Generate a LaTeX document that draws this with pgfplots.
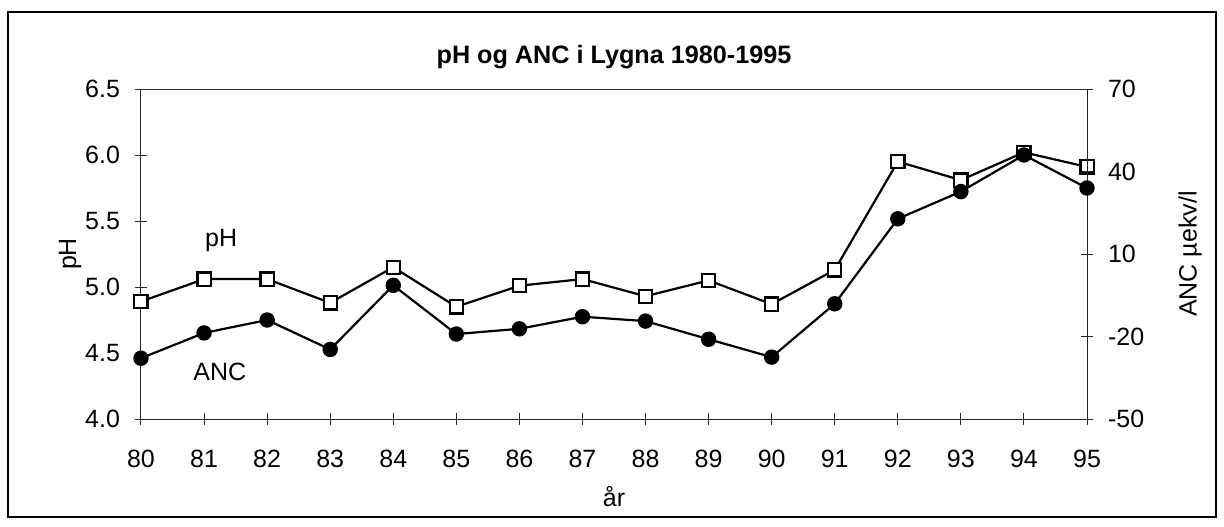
\documentclass[border=0pt]{standalone}
\usepackage{fontspec}
\setmainfont{Liberation Sans}
\usepackage{pgfplots}
\usepackage{pgfplotstable}
\pgfplotsset{compat=1.18}

% year, pH (left axis), ANC in uekv/l (right axis)
\pgfplotstableread{
year pH   ANC
80   4.89 -27.9
81   5.06 -18.7
82   5.06 -14.0
83   4.88 -24.7
84   5.15 -1.4
85   4.85 -19.1
86   5.01 -17.2
87   5.06 -12.8
88   4.93 -14.4
89   5.05 -21.0
90   4.87 -27.5
91   5.13 -8.1
92   5.95 22.8
93   5.81 32.7
94   6.02 46.0
95   5.91 34.0
}\lygna

\newcommand\lbl{\fontsize{12.5}{14}\selectfont}

\pgfplotsset{
  lyg/.style={
    at={(0,0)}, anchor=south west, scale only axis,
    width=473pt, height=165pt,
    xmin=80, xmax=95,
    tick align=center, major tick length=6pt,
    axis line style={line width=0.5pt, black!85},
    every tick/.style={line width=0.5pt, black!85},
    tick label style={font=\lbl},
    /pgf/number format/assume math mode=true,
    clip=false,
  },
}

\begin{document}
\begin{tikzpicture}[x=1pt,y=1pt]
% page extent and outer frame (0.5pt per pixel of the reference)
\path (-70.5,-53.5) rectangle (541.5,209.5);
\draw[line width=1.2pt] (-66.5,-49) rectangle (537.5,203.5);

\begin{axis}[lyg,
  ymin=4, ymax=6.5,
  xtick={80,...,95}, ytick={4,4.5,...,6.5},
  xtick pos=lower, ytick pos=left,
  yticklabel style={/pgf/number format/fixed, /pgf/number format/fixed zerofill,
    /pgf/number format/precision=1, xshift=-4pt},
  xticklabel style={yshift=-9pt},
  xlabel={år}, ylabel={pH},
  every axis x label/.style={at={(axis description cs:0.5,-0.236)}, anchor=center, font=\lbl},
  every axis y label/.style={at={(axis description cs:-0.075,0.5)}, rotate=90, anchor=center, font=\lbl},
  title={pH og ANC i Lygna 1980-1995},
  every axis title/.style={at={(axis description cs:0.5,1)}, anchor=base, yshift=13pt,
    font=\fontsize{12.6}{14}\selectfont\bfseries},
]
\addplot[black, line width=1.1pt, mark=square*, mark size=3.3pt,
  mark options={fill=white, line width=1.1pt}] table[x=year, y=pH] {\lygna};
\node[font=\lbl] at (axis cs:81.27,5.35) {pH};
\node[font=\lbl] at (axis cs:81.25,4.36) {ANC};
\end{axis}

\begin{axis}[lyg,
  ymin=-50, ymax=70, ytick={-50,-20,10,40,70},
  axis x line=none, axis y line*=right,
  yticklabel style={xshift=4pt},
  ylabel={ANC µekv/l},
  every axis y label/.style={at={(axis description cs:1.109,0.5)}, rotate=90, anchor=center, font=\lbl},
]
\addplot[black, line width=1.1pt, mark=*, mark size=3.3pt] table[x=year, y=ANC] {\lygna};
\end{axis}
\end{tikzpicture}
\end{document}
